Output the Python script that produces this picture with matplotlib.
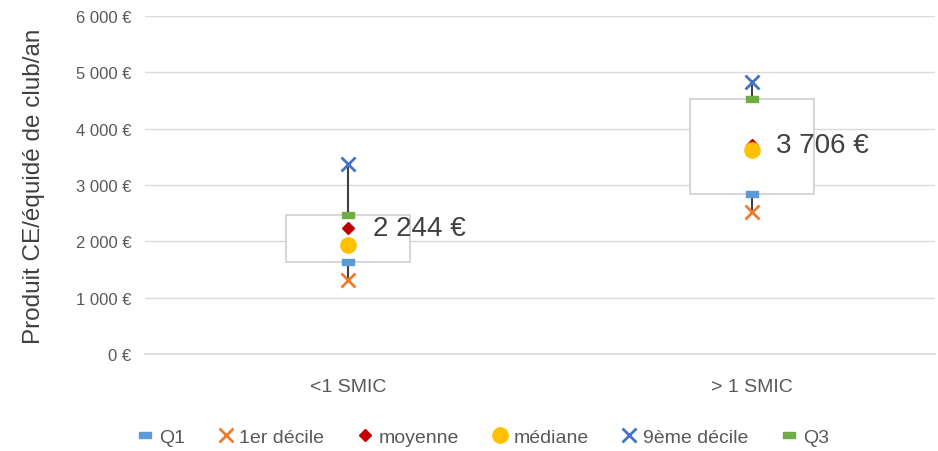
import matplotlib.pyplot as plt
from matplotlib.path import Path
import numpy as np

plt.rcParams['font.family'] = ['Liberation Sans', 'DejaVu Sans']

categories = ['<1 SMIC', '> 1 SMIC']
q1 = [1635, 2840]
decile1 = [1315, 2520]
moyenne = [2244, 3706]
mediane = [1940, 3620]
decile9 = [3380, 4830]
q3 = [2470, 4530]
labels_moy = ['2 244 €', '3 706 €']
yticks = [0, 1000, 2000, 3000, 4000, 5000, 6000]
ytick_labels = ['0 €', '1 000 €', '2 000 €', '3 000 €', '4 000 €', '5 000 €', '6 000 €']

dash = Path([(-1, -0.5), (1, -0.5), (1, 0.5), (-1, 0.5), (-1, -0.5)],
            [Path.MOVETO, Path.LINETO, Path.LINETO, Path.LINETO, Path.CLOSEPOLY])

fig = plt.figure(figsize=(9.38, 4.52), dpi=100)
ax = fig.add_axes([0.155, 0.2146, 0.842, 0.7478])
x = np.arange(len(categories))

# boxes (Q1 -> Q3)
ax.bar(x, np.array(q3) - np.array(q1), bottom=q1, width=0.307,
       facecolor='white', edgecolor='#D0D0D0', linewidth=1.2, zorder=2)
# whiskers
for i in x:
    ax.plot([i, i], [q3[i], decile9[i]], color='#404040', lw=1.5, zorder=3)
    ax.plot([i, i], [decile1[i], q1[i]], color='#404040', lw=1.5, zorder=3)

ax.plot(x, q1, ls='none', marker=dash, ms=8, color='#5B9BD5', mec='#5B9BD5', label='Q1', zorder=4)
ax.plot(x, decile1, ls='none', marker='x', ms=10, mew=2, color='#ED7D31', label='1er décile', zorder=4)
ax.plot(x, moyenne, ls='none', marker='D', ms=6, color='#C00000', label='moyenne', zorder=5)
ax.plot(x, mediane, ls='none', marker='o', ms=11, color='#FFC000', label='médiane', zorder=6)
ax.plot(x, decile9, ls='none', marker='x', ms=10, mew=2, color='#4472C4', label='9ème décile', zorder=4)
ax.plot(x, q3, ls='none', marker=dash, ms=8, color='#70AD47', mec='#70AD47', label='Q3', zorder=4)

for i in x:
    ax.text(i + 0.06, moyenne[i], labels_moy[i], fontsize=20, color='#404040',
            va='center', ha='left', zorder=7)

ax.set_xlim(-0.503, 1.454)
ax.set_ylim(0, 6000)
ax.set_yticks(yticks)
ax.set_yticklabels(ytick_labels)
ax.set_xticks(x)
ax.set_xticklabels(categories)
ax.tick_params(length=0, colors='#595959')
ax.tick_params(axis='y', labelsize=12, pad=10)
ax.tick_params(axis='x', labelsize=14, pad=17)
ax.grid(axis='y', color='#D9D9D9', lw=1)
ax.axhline(0, color='#D9D9D9', lw=1.2, clip_on=False, zorder=1)
ax.set_axisbelow(True)
for s in ax.spines.values():
    s.set_visible(False)
ax.set_ylabel('Produit CE/équidé de club/an', fontsize=17.5, color='#404040', labelpad=22)

fig.legend(loc='center', bbox_to_anchor=(0.514, 0.03), ncol=6, frameon=False,
           fontsize=14, labelcolor='#595959', handletextpad=0.2, columnspacing=1.6,
           handlelength=1.0)

fig.savefig('out.png', dpi=100)
